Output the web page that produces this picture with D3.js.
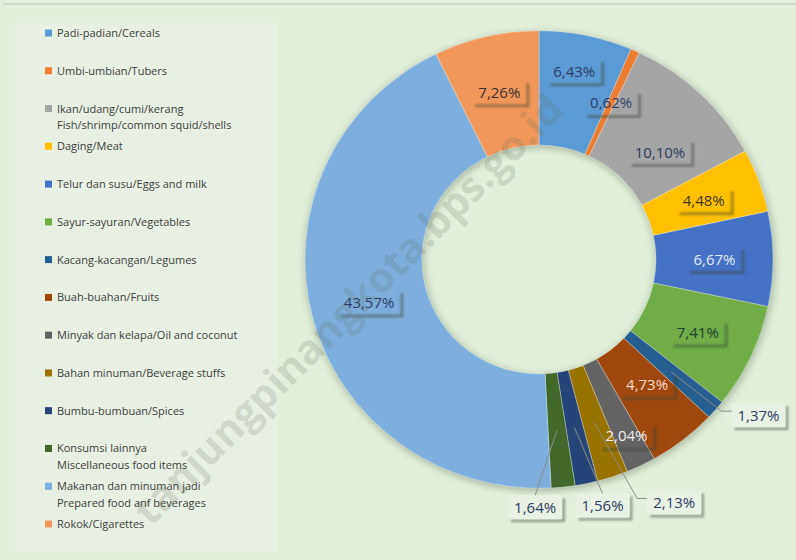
<!DOCTYPE html>
<html>
<head>
<meta charset="utf-8">
<script src="https://cdn.jsdelivr.net/npm/d3@7"></script>
<style>
  body { margin: 0; background: #e2efda; }
  svg { display: block; font-family: "Open Sans", sans-serif; }
</style>
</head>
<body>
<div id="chart"></div>
<script>
// DATA
const categories = [
  ["Padi-padian/Cereals"],
  ["Umbi-umbian/Tubers"],
  ["Ikan/udang/cumi/kerang", "Fish/shrimp/common squid/shells"],
  ["Daging/Meat"],
  ["Telur dan susu/Eggs and milk"],
  ["Sayur-sayuran/Vegetables"],
  ["Kacang-kacangan/Legumes"],
  ["Buah-buahan/Fruits"],
  ["Minyak dan kelapa/Oil and coconut"],
  ["Bahan minuman/Beverage stuffs"],
  ["Bumbu-bumbuan/Spices"],
  ["Konsumsi lainnya", "Miscellaneous food items"],
  ["Makanan dan minuman jadi", "Prepared food anf beverages"],
  ["Rokok/Cigarettes"]
];
const values = [6.43, 0.62, 10.10, 4.48, 6.67, 7.41, 1.37, 4.73, 2.04, 2.13, 1.56, 1.64, 43.57, 7.26];

// STYLE
const colours = ["#5b9bd5", "#ed7d31", "#a5a5a5", "#ffc000", "#4472c4", "#70ad47", "#255e91",
                 "#9e480e", "#636363", "#997300", "#264478", "#43682b", "#7cafdd", "#f1975a"];
const labelColours = ["#2c3d66", "#2c3d66", "#2e3a62", "#3d3828", "#e3eaf6", "#24412e", "#2e3c62",
                      "#f8dac6", "#eeeeee", "#2e3c62", "#2e3c62", "#2e3c62", "#2c3d66", "#3a3232"];
const outside = [6, 9, 10, 11];           // labels pulled out with leader lines
const nudge = { 0: [0, -20], 2: [0, 17], 6: [87, 43], 7: [0, -10], 8: [11, 22],
                9: [80, 80], 10: [28, 78], 11: [-22, 77] };

const width = 796, height = 560;
const cx = 539, cy = 259.5, outerR = 234, innerR = 117, sy = 0.978;

const svg = d3.select('#chart').append('svg')
  .attr('width', width)
  .attr('height', height);

const defs = svg.append('defs');
defs.append('filter').attr('id', 'ringShadow')
  .attr('x', -0.2).attr('y', -0.2).attr('width', 1.4).attr('height', 1.4)
  .append('feGaussianBlur').attr('stdDeviation', 4);
defs.append('filter').attr('id', 'boxShadow')
  .attr('x', -0.2).attr('y', -0.3).attr('width', 1.4).attr('height', 1.6)
  .append('feGaussianBlur').attr('stdDeviation', 1.1);

// background + frame line
svg.append('rect').attr('width', width).attr('height', height).attr('fill', '#e2efda');
svg.append('line').attr('x1', 3).attr('x2', width).attr('y1', 4).attr('y2', 4)
  .attr('stroke', '#b9c0b4').attr('stroke-width', 1);

// legend box
svg.append('rect')
  .attr('x', 15).attr('y', 23).attr('width', 263).attr('height', 529)
  .attr('fill', '#e8f0e3');

const legendY = d3.scalePoint().domain(d3.range(categories.length)).range([33, 524]);
const legend = svg.append('g').attr('class', 'legend')
  .selectAll('g').data(categories).join('g')
    .attr('transform', (d, i) => `translate(45, ${legendY(i)})`);
legend.append('rect')
  .attr('x', 0).attr('y', -3.5).attr('width', 7).attr('height', 7)
  .attr('fill', (d, i) => colours[i]);
legend.append('text')
  .attr('x', 12)
  .attr('font-size', 11)
  .attr('fill', '#404040')
  .selectAll('tspan').data(d => d).join('tspan')
    .attr('x', 12)
    .attr('y', (d, j) => j * 17)
    .attr('dy', '0.36em')
    .text(d => d);

// donut
const pie = d3.pie().sort(null).value(d => d);
const arcs = pie(values);
const arc = d3.arc().innerRadius(innerR).outerRadius(outerR);
const midArc = d3.arc().innerRadius(175.5).outerRadius(175.5);

const donut = svg.append('g')
  .attr('transform', `translate(${cx}, ${cy}) scale(1, ${sy})`);

donut.append('path')
  .attr('d', d3.arc().innerRadius(innerR - 1).outerRadius(outerR + 1)({ startAngle: 0, endAngle: 2 * Math.PI }))
  .attr('fill', '#44543c')
  .attr('opacity', 0.35)
  .attr('transform', 'translate(1, 2)')
  .attr('filter', 'url(#ringShadow)');

donut.selectAll('.slice').data(arcs).join('path')
  .attr('class', 'slice')
  .attr('d', arc)
  .attr('fill', (d, i) => colours[i])
  .attr('stroke', 'rgba(255,255,255,0.45)')
  .attr('stroke-width', 0.7);

// labels
const anchor = arcs.map(d => {
  const [x, y] = midArc.centroid(d);
  return [cx + x, cy + y * sy];
});

const labels = svg.append('g').attr('class', 'labels')
  .selectAll('g').data(arcs).join('g')
    .attr('transform', (d, i) => {
      const n = nudge[i] || [0, 0];
      return `translate(${anchor[i][0] + n[0]}, ${anchor[i][1] + n[1]})`;
    });

labels.each(function (d, i) {
  const g = d3.select(this);
  const txt = values[i].toFixed(2).replace('.', ',') + '%';
  const t = g.append('text')
    .attr('text-anchor', 'middle')
    .attr('dy', '0.36em')
    .attr('font-size', 15)
    .attr('fill', labelColours[i])
    .text(txt);
  const w = t.node().getComputedTextLength() + 12, h = 24, o = 3;
  const x0 = -w / 2, y0 = -h / 2;
  // L-shaped shadow to the right and below the box
  g.insert('path', 'text')
    .attr('d', `M${x0 + w},${y0 + o}h${o}v${h}h${-w}v${-o}h${w - o}Z`)
    .attr('fill', '#3a4436')
    .attr('opacity', 0.45)
    .attr('filter', 'url(#boxShadow)');
  if (outside.includes(i)) {
    g.insert('rect', 'text')
      .attr('x', x0).attr('y', y0).attr('width', w).attr('height', h)
      .attr('fill', '#e9f1e5');
  }
  d.box = { w, h };
});

// leader lines
const leaders = svg.append('g').attr('class', 'leaders');
outside.forEach(i => {
  const n = nudge[i];
  const bx = anchor[i][0] + n[0], by = anchor[i][1] + n[1];
  const { w, h } = arcs[i].box;
  let pts;
  if (n[0] > 60) {
    pts = [anchor[i], [bx - w / 2 - 10, by - 4], [bx - w / 2, by - 4]];
  } else {
    pts = [anchor[i], [bx, by - h / 2]];
  }
  leaders.append('path')
    .attr('d', d3.line()(pts))
    .attr('fill', 'none')
    .attr('stroke', '#8c8c8c')
    .attr('stroke-width', 1);
});

// watermark
svg.append('text')
  .attr('transform', 'translate(566, 112) rotate(-45)')
  .attr('text-anchor', 'end')
  .attr('font-size', 41)
  .attr('font-weight', 'bold')
  .attr('fill', 'rgba(95, 110, 95, 0.2)')
  .text('tanjungpinangkota.bps.go.id');
</script>
</body>
</html>
